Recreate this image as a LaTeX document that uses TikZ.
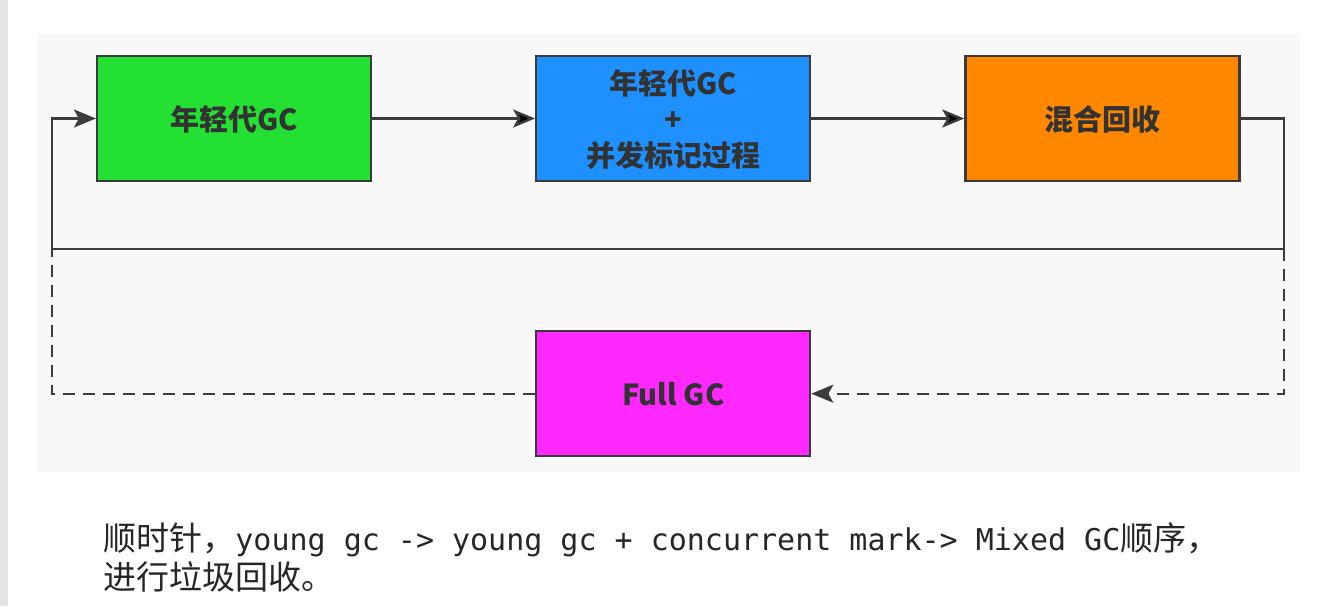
\documentclass[tikz,border=0pt]{standalone}
\usepackage{fontspec}
\setmonofont{DejaVu Sans Mono}
\newfontfamily\cjk{Noto Sans CJK SC}
\usetikzlibrary{positioning,arrows.meta}

\definecolor{younggreen}{RGB}{35,224,51}
\definecolor{markblue}{RGB}{30,144,255}
\definecolor{mixedorange}{RGB}{255,136,0}
\definecolor{fullmagenta}{RGB}{255,40,255}
\definecolor{boxline}{RGB}{58,58,58}
\definecolor{flowline}{RGB}{60,60,60}
\definecolor{labeltext}{RGB}{50,50,50}
\definecolor{panel}{RGB}{248,248,248}
\definecolor{edgegray}{RGB}{228,228,228}

\begin{document}
\begin{tikzpicture}[auto, node distance=81pt,
    box/.style={draw=boxline, line width=1.1pt, minimum width=137pt, minimum height=62.5pt,
      inner sep=0pt, text=labeltext, align=center, text depth=0pt,
      font=\cjk\bfseries\fontsize{14.5pt}{18pt}\selectfont},
    flow/.style={draw=flowline, line width=1.2pt, -{Stealth[length=11pt,width=9pt,inset=2.5pt]}},
    back/.style={flow, dash pattern=on 6pt off 4pt}]

        % Background
        \useasboundingbox (0,0) rectangle (659pt,-303pt);
        \fill[white] (0,0) rectangle (659pt,-303pt);
        \fill[edgegray] (0,0) rectangle (4pt,-303pt);
        \fill[panel] (18.5pt,-16.5pt) rectangle (650pt,-236pt);

        % Define states
        \node[box, fill=younggreen] (Young) at (117pt,-59.25pt) {年轻代GC};
        \node[box, fill=markblue] (YoungMark) [right=81.5pt of Young] {年轻代GC\\+\\并发标记过程};
        \node[box, fill=mixedorange] (Mixed) [right=76.5pt of YoungMark] {混合回收};
        \node[box, fill=fullmagenta] (Full) [below=74pt of YoungMark] {Full GC};

        % Corners of the loop
        \coordinate (LoopR) at (642pt,-124.5pt);
        \coordinate (LoopL) at (26pt,-124.5pt);

        % Define transitions
        \path[flow]
        (Young) edge (YoungMark)
        (YoungMark) edge (Mixed);
        \draw[flow] (Mixed.east) -| (LoopR) -- (LoopL) |- (Young.west);

        % Fall back to full gc
        \draw[back] (LoopR) |- (Full.east);
        \draw[back, -] (Full.west) -| (LoopL);

        % Note below the picture
        \node[anchor=base west, inner sep=0pt, text=black!85] (Note1) at (51.5pt,-275pt)
          {{\cjk\fontsize{16.5pt}{20pt}\selectfont 顺时针，}{\ttfamily\fontsize{15pt}{20pt}\selectfont young gc -> young gc + concurrent mark-> Mixed GC}{\cjk\fontsize{16.5pt}{20pt}\selectfont 顺序，}};
        \node[anchor=base west, inner sep=0pt, text=black!85] (Note2) at (51.5pt,-294.5pt)
          {\cjk\fontsize{16.5pt}{20pt}\selectfont 进行垃圾回收。};

    \end{tikzpicture}
\end{document}
